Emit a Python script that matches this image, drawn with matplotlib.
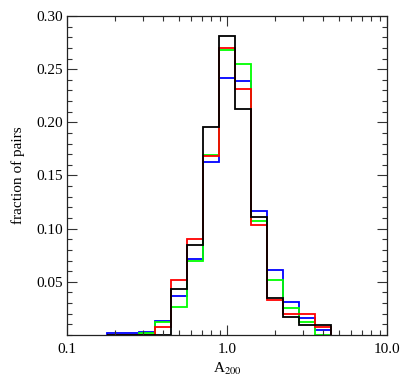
import numpy as np
import matplotlib
matplotlib.use("Agg")
import matplotlib.pyplot as plt
from matplotlib.ticker import FixedLocator, NullFormatter, MultipleLocator, LogLocator

# bin centres in log10(A200), bins are 0.1 dex wide
log_centers = [-0.7, -0.6, -0.5, -0.4, -0.3, -0.2, -0.1, 0.0, 0.1, 0.2, 0.3, 0.4, 0.5, 0.6]

frac_blue = [0.0015, 0.0015, 0.0025, 0.0136, 0.0366, 0.0718, 0.163, 0.242, 0.2386, 0.117, 0.0611, 0.031, 0.0164, 0.0043]
frac_green = [0.0, 0.0, 0.0018, 0.012, 0.0264, 0.070, 0.169, 0.268, 0.255, 0.107, 0.0515, 0.0254, 0.0127, 0.0]
frac_red = [0.0, 0.0, 0.0, 0.0071, 0.0518, 0.090, 0.168, 0.270, 0.231, 0.103, 0.0329, 0.0196, 0.0196, 0.0075]
frac_black = [0.0, 0.0, 0.0, 0.0, 0.0429, 0.085, 0.196, 0.281, 0.2128, 0.111, 0.0345, 0.0173, 0.009, 0.009]

x_ticks = [0.1, 1.0, 10.0]
x_ticklabels = ["0.1", "1.0", "10.0"]
y_ticks = [0.05, 0.10, 0.15, 0.20, 0.25, 0.30]

plt.rcParams["font.family"] = ["Liberation Serif", "DejaVu Serif"]
plt.rcParams["mathtext.fontset"] = "stix"

edges = 10 ** np.append(np.array(log_centers) - 0.05, log_centers[-1] + 0.05)

fig = plt.figure(figsize=(4.15, 3.9), dpi=100)
ax = fig.add_axes([0.1614, 0.141, 0.7711, 0.818])

for vals, col in [(frac_blue, "#0000ff"), (frac_green, "#00ff00"),
                  (frac_red, "#ff0000"), (frac_black, "#000000")]:
    ax.stairs(vals, edges, baseline=0, color=col, lw=1.3)

ax.set_xscale("log")
ax.set_xlim(0.1, 10.0)
ax.set_ylim(0.0, 0.30)

ax.xaxis.set_major_locator(FixedLocator(x_ticks))
ax.set_xticklabels(x_ticklabels)
ax.xaxis.set_minor_locator(LogLocator(base=10, subs=np.arange(2, 10)))
ax.xaxis.set_minor_formatter(NullFormatter())

ax.yaxis.set_major_locator(FixedLocator(y_ticks))
ax.set_yticklabels([f"{v:.2f}" for v in y_ticks])
ax.yaxis.set_minor_locator(MultipleLocator(0.01))

ax.tick_params(which="both", direction="in", top=True, right=True, labelsize=11, width=0.8, color="#333333")
ax.tick_params(which="major", length=7)
ax.tick_params(axis="x", which="major", pad=6)
ax.tick_params(axis="y", which="major", pad=3)
ax.tick_params(which="minor", length=3.5)
for sp in ax.spines.values():
    sp.set_linewidth(0.9)
    sp.set_color("#222222")

ax.set_xlabel(r"A$_{200}$", fontsize=11, labelpad=3)
ax.set_ylabel("fraction of pairs", fontsize=11, labelpad=8)

fig.savefig("out.png", dpi=100)
